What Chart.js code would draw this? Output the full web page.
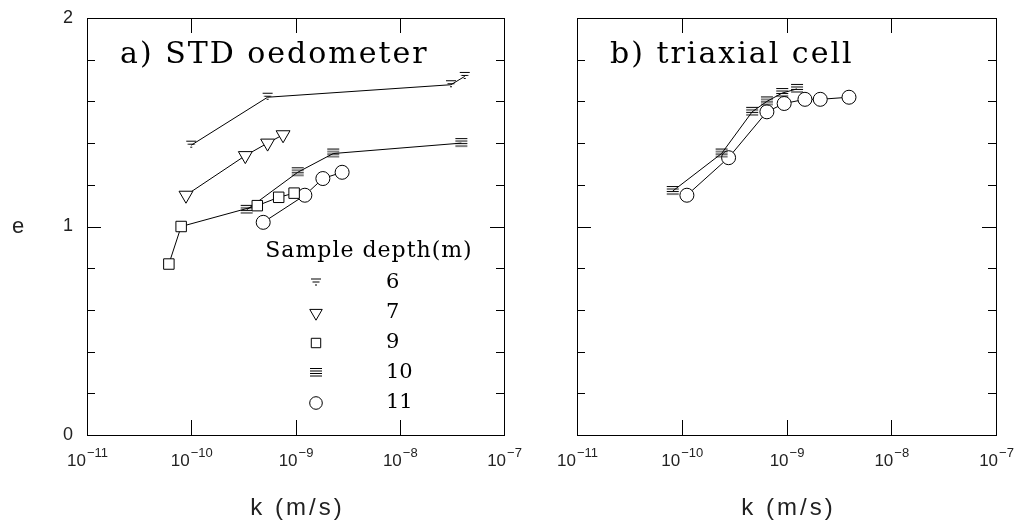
<!DOCTYPE html>
<html>
<head>
<meta charset="utf-8">
<script src="https://cdn.jsdelivr.net/npm/chart.js@4"></script>
<style>
html, body { margin: 0; padding: 0; background: #fff; }
#wrap { position: relative; width: 1021px; height: 531px; }
canvas { position: absolute; top: 0; }
</style>
</head>
<body>
<div id="wrap">
  <canvas id="chartA" width="540" height="531" style="left:0"></canvas>
  <canvas id="chartB" width="481" height="531" style="left:540px"></canvas>
</div>
<script>
// a) STD oedometer - k (m/s) and void ratio e, by sample depth
var k6 = [1.0e-10, 5.4e-10, 3.1e-8, 4.2e-8];
var e6 = [1.39, 1.62, 1.68, 1.72];
var k7 = [8.9e-11, 3.3e-10, 5.4e-10, 7.6e-10];
var e7 = [1.15, 1.34, 1.40, 1.44];
var k9 = [6.1e-11, 8.0e-11, 4.3e-10, 6.9e-10, 9.7e-10];
var e9 = [0.82, 1.00, 1.10, 1.14, 1.16];
var k10 = [3.4e-10, 1.05e-9, 2.3e-9, 3.9e-8];
var e10 = [1.08, 1.26, 1.35, 1.40];
var k11 = [4.9e-10, 1.23e-9, 1.83e-9, 2.8e-9];
var e11 = [1.02, 1.15, 1.23, 1.26];

// b) triaxial cell
var kT10 = [8.2e-11, 2.4e-10, 4.7e-10, 6.5e-10, 9.1e-10, 1.26e-9];
var eT10 = [1.17, 1.35, 1.55, 1.60, 1.64, 1.66];
var kT11 = [1.12e-10, 2.8e-10, 6.5e-10, 9.5e-10, 1.5e-9, 2.1e-9, 3.95e-9];
var eT11 = [1.15, 1.33, 1.55, 1.59, 1.61, 1.61, 1.62];

// legend + ticks
var depths = ['6', '7', '9', '10', '11'];
var xTicks = [1e-11, 1e-10, 1e-9, 1e-8, 1e-7];
var xTickExp = ['\u221211', '\u221210', '\u22129', '\u22128', '\u22127'];
var yTicks = [0, 1, 2];
var yTickLabels = ['0', '1', '2'];
var yMinor = [0.2, 0.4, 0.6, 0.8, 1.2, 1.4, 1.6, 1.8];

function pts(xs, ys) {
    return xs.map(function (x, i) { return {x: x, y: ys[i]}; });
}

// little marker images for the line-stack symbols
function barsMarker(widths, gap) {
    var c = document.createElement('canvas');
    c.width = 14;
    c.height = widths.length * gap + 2;
    var g = c.getContext('2d');
    g.strokeStyle = '#000';
    g.lineWidth = 1;
    widths.forEach(function (w, i) {
        var y = 1.5 + i * gap;
        g.beginPath();
        g.moveTo(7 - w / 2, y);
        g.lineTo(7 + w / 2, y);
        g.stroke();
    });
    return c;
}
var mk6 = barsMarker([10, 7, 2], 3);
var mk10 = barsMarker([12, 12, 12, 12], 2.5);

var styles = {
    '6': {pointStyle: mk6, radius: 6, rotation: 0},
    '7': {pointStyle: 'triangle', radius: 8, rotation: 180},
    '9': {pointStyle: 'rect', radius: 7.4, rotation: 0},
    '10': {pointStyle: mk10, radius: 6, rotation: 0},
    '11': {pointStyle: 'circle', radius: 7, rotation: 0}
};

function ds(depth, data) {
    var s = styles[depth];
    return {
        label: depth,
        data: data,
        borderColor: '#000',
        borderWidth: 1,
        pointStyle: s.pointStyle,
        pointRadius: s.radius,
        pointRotation: s.rotation,
        pointBorderColor: '#000',
        pointBackgroundColor: '#fff',
        pointBorderWidth: 1,
        fill: false,
        tension: 0
    };
}

function frame(title, withYLabels, withLegend) {
    return {
        id: 'frame',
        afterDraw: function (chart) {
            var ctx = chart.ctx;
            var a = chart.chartArea;
            var xs = chart.scales.x, ys = chart.scales.y;
            ctx.save();
            ctx.strokeStyle = '#000';
            ctx.lineWidth = 1;
            ctx.strokeRect(Math.round(a.left) + 0.5, Math.round(a.top) + 0.5,
                Math.round(a.right - a.left), Math.round(a.bottom - a.top));

            // inward ticks
            ctx.beginPath();
            xTicks.forEach(function (v) {
                var px = Math.round(xs.getPixelForValue(v)) + 0.5;
                ctx.moveTo(px, a.bottom); ctx.lineTo(px, a.bottom - 15);
                ctx.moveTo(px, a.top); ctx.lineTo(px, a.top + 15);
            });
            yMinor.concat([1]).forEach(function (v) {
                var py = Math.round(ys.getPixelForValue(v)) + 0.5;
                var len = v === 1 ? 14 : 8;
                ctx.moveTo(a.left, py); ctx.lineTo(a.left + len, py);
                ctx.moveTo(a.right, py); ctx.lineTo(a.right - len, py);
            });
            ctx.stroke();

            // x tick labels 10^n
            ctx.fillStyle = '#222';
            ctx.textBaseline = 'alphabetic';
            ctx.textAlign = 'left';
            xTicks.forEach(function (v, i) {
                var px = xs.getPixelForValue(v);
                ctx.font = '17px "Liberation Sans"';
                var w1 = ctx.measureText('10').width;
                ctx.font = '13px "Liberation Sans"';
                var w2 = ctx.measureText(xTickExp[i]).width;
                var x0 = px - (w1 + w2) / 2;
                ctx.font = '17px "Liberation Sans"';
                ctx.fillText('10', x0, 466);
                ctx.font = '13px "Liberation Sans"';
                ctx.fillText(xTickExp[i], x0 + w1 + 1, 457);
            });

            // axis title
            ctx.font = '24px "Liberation Sans"';
            ctx.textAlign = 'center';
            ctx.textBaseline = 'middle';
            ctx.letterSpacing = '3px';
            ctx.fillText('k (m/s)', (a.left + a.right) / 2 + 2, 508);
            ctx.letterSpacing = '0px';

            if (withYLabels) {
                ctx.font = '18px "Liberation Sans"';
                yTicks.forEach(function (v, i) {
                    ctx.fillText(yTickLabels[i], 68, ys.getPixelForValue(v));
                });
                ctx.font = '22px "Liberation Sans"';
                ctx.fillText('e', 18, ys.getPixelForValue(1));
            }

            // panel title
            ctx.fillStyle = '#000';
            ctx.font = '30px "DejaVu Serif"';
            ctx.textAlign = 'left';
            ctx.textBaseline = 'alphabetic';
            ctx.letterSpacing = '2px';
            ctx.fillText(title, a.left + 33, 63);
            ctx.letterSpacing = '0px';

            if (withLegend) {
                ctx.font = '22px "DejaVu Serif"';
                ctx.textAlign = 'center';
                ctx.textBaseline = 'middle';
                ctx.letterSpacing = '1px';
                ctx.fillText('Sample depth(m)', 369, 251);
                ctx.letterSpacing = '0px';
                ctx.textAlign = 'left';
                ctx.font = '21px "DejaVu Serif"';
                depths.forEach(function (d, i) {
                    var y = 283 + i * 30;
                    var s = styles[d];
                    ctx.lineWidth = 1;
                    ctx.strokeStyle = '#000';
                    ctx.fillStyle = '#fff';
                    Chart.helpers.drawPoint(ctx, {
                        pointStyle: s.pointStyle,
                        radius: s.radius * 0.9,
                        rotation: s.rotation,
                        borderWidth: 1
                    }, 316, y);
                    ctx.fillStyle = '#000';
                    ctx.fillText(d, 386, y);
                });
            }
            ctx.restore();
        }
    };
}

function makeChart(id, datasets, pad, title, withYLabels, withLegend) {
    return new Chart(document.getElementById(id), {
        type: 'line',
        data: {datasets: datasets},
        options: {
            responsive: false,
            animation: false,
            layout: {padding: pad},
            plugins: {legend: {display: false}, tooltip: {enabled: false}},
            scales: {
                x: {type: 'logarithmic', min: 1e-11, max: 1e-7, display: false},
                y: {type: 'linear', min: 0, max: 2, display: false}
            }
        },
        plugins: [frame(title, withYLabels, withLegend)]
    });
}

makeChart('chartA', [
    ds('6', pts(k6, e6)),
    ds('7', pts(k7, e7)),
    ds('9', pts(k9, e9)),
    ds('10', pts(k10, e10)),
    ds('11', pts(k11, e11))
], {left: 87, right: 36, top: 18, bottom: 96}, 'a) STD oedometer', true, true);

makeChart('chartB', [
    ds('10', pts(kT10, eT10)),
    ds('11', pts(kT11, eT11))
], {left: 37, right: 25, top: 18, bottom: 96}, 'b) triaxial cell', false, false);
</script>
</body>
</html>
